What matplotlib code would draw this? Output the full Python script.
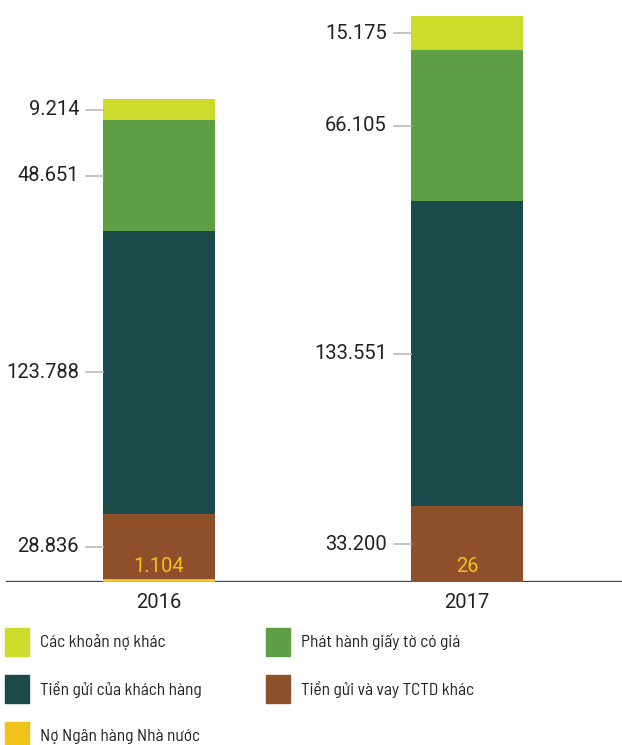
import matplotlib
matplotlib.use("Agg")
import matplotlib.pyplot as plt
from matplotlib.patches import Rectangle

plt.rcParams['font.family'] = ['Roboto', 'DejaVu Sans']

years = ["2016", "2017"]
series = ["Nợ Ngân hàng Nhà nước", "Tiền gửi và vay TCTD khác",
          "Tiền gửi của khách hàng", "Phát hành giấy tờ có giá",
          "Các khoản nợ khác"]
no_nhnn = [1.104, 0.026]
tctd = [28.836, 33.200]
khach_hang = [123.788, 133.551]
giay_to = [48.651, 66.105]
no_khac = [9.214, 15.175]
value_labels = {
    "Nợ Ngân hàng Nhà nước": ["1.104", "26"],
    "Tiền gửi và vay TCTD khác": ["28.836", "33.200"],
    "Tiền gửi của khách hàng": ["123.788", "133.551"],
    "Phát hành giấy tờ có giá": ["48.651", "66.105"],
    "Các khoản nợ khác": ["9.214", "15.175"],
}
colors = ["#F0C21A", "#8E4F2B", "#1B4A4A", "#5E9E44", "#CDDC2A"]
values = [no_nhnn, tctd, khach_hang, giay_to, no_khac]

W, H = 622, 745
fig = plt.figure(figsize=(W / 100, H / 100), dpi=100)
base_px = 582
ax = fig.add_axes([0, (H - base_px) / H, 1, base_px / H])

px_per_unit = 2.2827
ax.set_ylim(0, base_px / px_per_unit)
sep = 308
ax.set_xlim(-159 / sep, (W - 159) / sep)
bw = 112 / sep

ax.axhline(0, xmin=7 / W, xmax=1, color="#1E4D4A", lw=1.6, zorder=1)

x = [0, 1]
bottom = [0.0, 0.0]
for name, vals, col in zip(series, values, colors):
    ax.bar(x, vals, width=bw, bottom=bottom, color=col, zorder=2)
    for i in range(2):
        mid = bottom[i] + vals[i] / 2
        lab = value_labels[name][i]
        if name == "Nợ Ngân hàng Nhà nước":
            ax.text(x[i], 7.0, lab, ha="center", va="center", fontsize=14.5,
                    color="#F0C21A", zorder=3)
        else:
            left = x[i] - bw / 2
            ax.plot([left - 17 / sep, left], [mid, mid], color="#BBBBBB",
                    lw=1.2, zorder=3, clip_on=False)
            ax.text(left - 24 / sep, mid, lab, ha="right", va="center",
                    fontsize=14.5, color="#222222")
        bottom[i] += vals[i]

ax.set_xticks(x)
ax.set_xticklabels(years, fontsize=14.5, color="#222222")
ax.tick_params(axis="x", length=0, pad=8)
ax.set_yticks([])
for s in ax.spines.values():
    s.set_visible(False)

# legend laid out in two columns
legend_order = ["Các khoản nợ khác", "Phát hành giấy tờ có giá",
                "Tiền gửi của khách hàng", "Tiền gửi và vay TCTD khác",
                "Nợ Ngân hàng Nhà nước"]
col_of = dict(zip(series, colors))
for k, name in enumerate(legend_order):
    cx = 5 if k % 2 == 0 else 266
    cy = 642 + (k // 2) * 47
    fig.add_artist(Rectangle((cx / W, (H - cy - 14) / H), 24 / W, 28 / H,
                             transform=fig.transFigure, color=col_of[name]))
    fig.text((cx + 35) / W, (H - cy) / H, name, ha="left", va="center",
             fontsize=12.5, color="#222222",
             family=["Barlow Semi Condensed", "Roboto", "DejaVu Sans"])

fig.savefig("out.png", dpi=100)
